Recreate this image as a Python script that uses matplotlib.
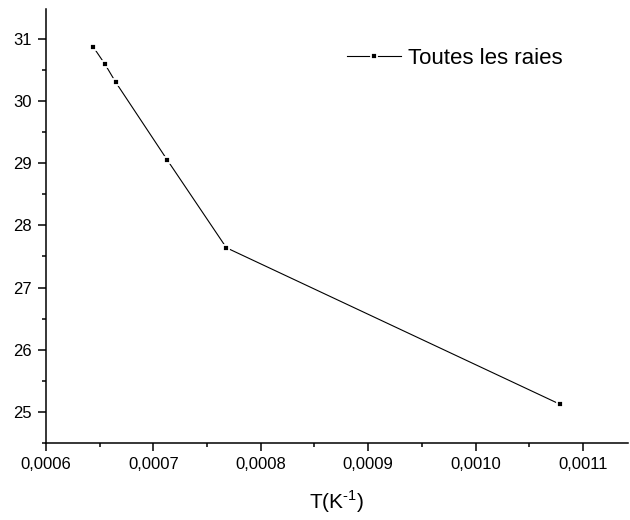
import matplotlib
matplotlib.use("Agg")
import matplotlib.pyplot as plt
from matplotlib.ticker import FuncFormatter, MultipleLocator

plt.rcParams['font.family'] = ['Liberation Sans', 'DejaVu Sans']
plt.rcParams['mathtext.fontset'] = 'custom'
plt.rcParams['mathtext.rm'] = 'Liberation Sans'

# inverse temperature (1/K) and values
inv_T = [0.000644, 0.000655, 0.000665, 0.000713, 0.000768, 0.001079]
values = [30.87, 30.59, 30.30, 29.05, 27.64, 25.12]
series_label = "Toutes les raies"

fig = plt.figure(figsize=(6.3, 5.2), dpi=100)
ax = fig.add_axes([46/630, 1-443/520, (628-46)/630, (443-9)/520])

ax.plot(inv_T, values, color='black', lw=0.8, marker='s', markersize=4,
        markerfacecolor='black', markeredgecolor='white', markeredgewidth=1.3,
        label=series_label)

ax.set_xlim(0.0006, 0.001142)
ax.set_ylim(24.5, 31.48)

ax.xaxis.set_major_locator(MultipleLocator(0.0001))
ax.xaxis.set_minor_locator(MultipleLocator(0.00005))
ax.yaxis.set_major_locator(MultipleLocator(1))
ax.yaxis.set_minor_locator(MultipleLocator(0.5))
ax.xaxis.set_major_formatter(FuncFormatter(lambda v, p: f"{v:.4f}".replace('.', ',')))
ax.yaxis.set_major_formatter(FuncFormatter(lambda v, p: f"{v:.0f}"))

for s in ['top', 'right']:
    ax.spines[s].set_visible(False)
for s in ['left', 'bottom']:
    ax.spines[s].set_linewidth(1.1)

ax.tick_params(which='major', direction='out', length=6, width=1.1, labelsize=12, pad=4)
ax.tick_params(which='minor', direction='out', length=3, width=1.1)

ax.set_xlabel(r'T(K$^{\text{-1}}$)', fontsize=15, labelpad=12)

ax.legend(loc='center left', bbox_to_anchor=(347/630, 1-58/520),
          bbox_transform=fig.transFigure, frameon=False, fontsize=16,
          handlelength=2.45, handletextpad=0.3, borderpad=0, borderaxespad=0)

fig.savefig('out.png', dpi=100)
